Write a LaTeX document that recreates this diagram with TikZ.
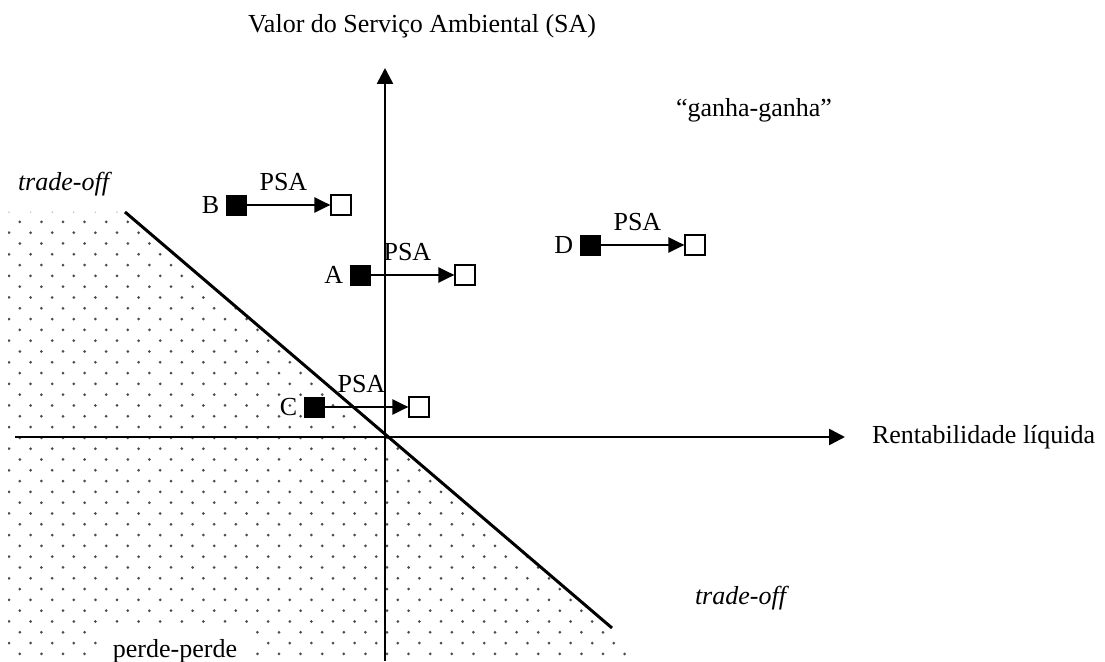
\documentclass[tikz,border=0pt]{standalone}
\usepackage{fontspec}
\setmainfont{Liberation Serif}
\usetikzlibrary{arrows.meta, positioning}

\tikzset{
  axis/.style={line width=1.3pt, -{Triangle[length=8pt, width=8pt]}},
  frontier/.style={line width=1.5pt},
  psa/.style={line width=1.1pt, -{Triangle[length=8pt, width=7.5pt]}},
  psalab/.style={midway, above=3pt, xshift=-2.5pt},
  before/.style={draw, fill=black, minimum size=10pt, inner sep=0pt},
  after/.style={draw, fill=white, line width=0.8pt, minimum size=10pt, inner sep=0pt},
  letter/.style={inner sep=1pt},
  dot/.style={fill=black!70},
}

\begin{document}
\begin{tikzpicture}[x=0.5pt, y=-0.5pt, font=\fontsize{13}{15}\selectfont]
  \useasboundingbox (0,0) rectangle (1105,662);

  % ----- dotted region (perde-perde side of the frontier) -----
  \begin{scope}
    \clip (8,212) -- (125,212) -- (645,656) -- (8,656) -- cycle;
    \foreach \k in {-2,...,39}{
      \pgfmathsetmacro{\yy}{232.7+10.8*\k}
      \pgfmathsetmacro{\xo}{9+10.8*mod(\k+2,2)}
      \foreach \j in {0,...,30}
        \fill[dot] (\xo+21.6*\j,\yy) circle (0.75pt);
    }
  \end{scope}

  % ----- axes -----
  \coordinate (xl) at (15,437);
  \coordinate (xr) at (845,437);
  \coordinate (yb) at (385,661);
  \coordinate (yt) at (385,68);
  \draw[axis] (xl) -- (xr);
  \draw[axis] (yb) -- (yt);

  % ----- frontier -----
  \coordinate (fl) at (125,212);
  \coordinate (fr) at (612,628);
  \draw[frontier] (fl) -- (fr);

  % ----- labels -----
  \node[anchor=west] (ylab) at (241,26) {Valor do Serviço Ambiental (SA)};
  \node[right=10pt of xr] (xlab) {Rentabilidade líquida};
  \node (win) at (754,110) {``ganha-ganha''};
  \node (tradeA) at (65,184) {\textit{trade-off}};
  \node (tradeB) at (742,598) {\textit{trade-off}};
  \node[fill=white, inner xsep=8pt, inner ysep=6pt] (lose) at (175,651) {perde-perde};

  % ----- PSA shifts -----
  \node[before] (b0) at (236,205) {};
  \node[after, right=42pt of b0] (b1) {};
  \draw[psa] (b0) -- (b1) node[psalab] {PSA};
  \node[letter, left=2pt of b0] (bl) {B};

  \node[before] (a0) at (360,275) {};
  \node[after, right=42pt of a0] (a1) {};
  \draw[psa] (a0) -- (a1) node[psalab] {PSA};
  \node[letter, left=2pt of a0] (al) {A};

  \node[before] (c0) at (314,407) {};
  \node[after, right=42pt of c0] (c1) {};
  \draw[psa] (c0) -- (c1) node[psalab] {PSA};
  \node[letter, left=2pt of c0] (cl) {C};

  \node[before] (d0) at (590,245) {};
  \node[after, right=42pt of d0] (d1) {};
  \draw[psa] (d0) -- (d1) node[psalab] {PSA};
  \node[letter, left=2pt of d0] (dl) {D};
\end{tikzpicture}
\end{document}
